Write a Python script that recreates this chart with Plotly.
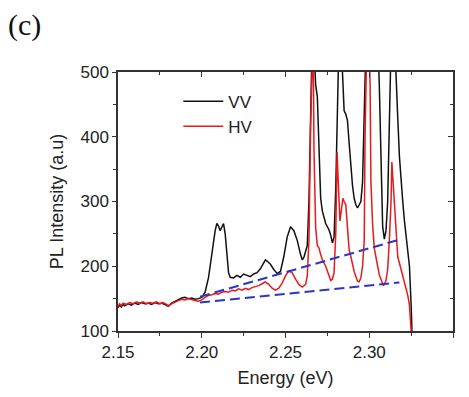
import plotly.graph_objects as go

# VV (black) spectrum
vv_e = [2.150, 2.151, 2.152, 2.153, 2.154, 2.156, 2.158, 2.160, 2.162, 2.164, 2.166, 2.168, 2.170,
        2.172, 2.174, 2.176, 2.178, 2.180, 2.182, 2.184, 2.186, 2.188, 2.190, 2.192, 2.194, 2.196,
        2.198, 2.200, 2.202, 2.204, 2.205, 2.206, 2.207, 2.208, 2.209, 2.210, 2.211, 2.212, 2.213,
        2.214, 2.215, 2.216, 2.217, 2.219, 2.221, 2.223, 2.225, 2.227, 2.229, 2.231, 2.233, 2.235,
        2.237, 2.238, 2.239, 2.241, 2.243, 2.245, 2.247, 2.249, 2.251, 2.253, 2.255, 2.257, 2.259,
        2.260, 2.261, 2.262, 2.263, 2.264, 2.265, 2.266, 2.267, 2.268, 2.269, 2.270, 2.271, 2.272,
        2.274, 2.276, 2.277, 2.278, 2.279, 2.280, 2.281, 2.282, 2.283, 2.284, 2.285, 2.286, 2.287,
        2.288, 2.289, 2.290, 2.291, 2.292, 2.293, 2.294, 2.295, 2.296, 2.297, 2.298, 2.302, 2.305,
        2.306, 2.307, 2.308, 2.309, 2.310, 2.311, 2.312, 2.313, 2.315, 2.316, 2.317, 2.318, 2.319,
        2.320, 2.321, 2.322, 2.323, 2.324, 2.325, 2.3255]
vv_i = [136, 140, 137, 141, 139, 142, 140, 143, 141, 144, 142, 143, 141,
        144, 142, 143, 141, 138, 143, 146, 149, 151, 152, 150, 151, 149,
        150, 152, 160, 182, 200, 220, 238, 255, 266, 262, 255, 262, 266,
        250, 215, 190, 183, 182, 186, 183, 188, 186, 184, 188, 190, 196,
        204, 210, 208, 203, 195, 189, 192, 215, 245, 261, 255, 240, 218,
        210, 214, 222, 232, 300, 520, 560, 540, 480, 462, 380, 305, 285,
        266, 256, 248, 236, 245, 320, 480, 560, 560, 500, 440, 435, 425,
        390, 350, 325, 305, 295, 290, 294, 300, 330, 420, 540, 560, 560,
        480, 340, 262, 242, 255, 300, 420, 540, 560, 480, 430, 370, 330,
        300, 270, 245, 225, 200, 140, 100]

# HV (red) spectrum
hv_e = [2.150, 2.151, 2.152, 2.153, 2.155, 2.157, 2.159, 2.161, 2.163, 2.165, 2.167, 2.169, 2.171,
        2.173, 2.175, 2.177, 2.179, 2.180, 2.182, 2.184, 2.186, 2.188, 2.190, 2.192, 2.194, 2.196,
        2.198, 2.200, 2.202, 2.204, 2.206, 2.208, 2.210, 2.212, 2.214, 2.216, 2.218, 2.220, 2.222,
        2.224, 2.226, 2.228, 2.230, 2.232, 2.234, 2.236, 2.238, 2.240, 2.242, 2.244, 2.246, 2.248,
        2.250, 2.252, 2.254, 2.256, 2.258, 2.260, 2.262, 2.263, 2.264, 2.265, 2.2655, 2.2665, 2.267,
        2.268, 2.269, 2.270, 2.271, 2.272, 2.274, 2.276, 2.277, 2.278, 2.279, 2.280, 2.2808, 2.2815,
        2.2825, 2.2835, 2.2843, 2.285, 2.286, 2.287, 2.288, 2.289, 2.291, 2.293, 2.294, 2.295, 2.296,
        2.297, 2.2975, 2.2985, 2.300, 2.3005, 2.301, 2.302, 2.303, 2.305, 2.306, 2.307, 2.3085, 2.310,
        2.311, 2.312, 2.313, 2.3135, 2.314, 2.315, 2.316, 2.317, 2.318, 2.319, 2.320, 2.321, 2.322,
        2.323, 2.324, 2.325]
hv_i = [138, 142, 139, 143, 141, 144, 142, 145, 143, 145, 142, 144, 143,
        145, 142, 144, 141, 139, 142, 145, 147, 149, 148, 150, 148, 147,
        146, 148, 152, 155, 156, 158, 157, 160, 161, 160, 163, 162, 165,
        163, 166, 164, 167, 168, 170, 173, 176, 172, 166, 163, 166, 174,
        185, 193, 190, 180, 172, 168, 172, 185, 240, 420, 560, 560, 380,
        260, 232, 228, 218, 210, 200, 185, 178, 180, 190, 250, 376, 330,
        270, 290, 305, 300, 295, 260, 225, 215, 192, 177, 176, 182, 200,
        240, 400, 540, 540, 480, 330, 265, 228, 200, 187, 180, 170, 178,
        195, 240, 300, 361, 340, 290, 240, 215, 205, 195, 185, 176, 168,
        155, 140, 100]

# Dashed baseline guides
upper_e = [2.199, 2.318]
upper_i = [153, 241]
lower_e = [2.199, 2.318]
lower_i = [144, 175]

x_ticks = [2.15, 2.20, 2.25, 2.30, 2.35]
x_tick_labels = ["2.15", "2.20", "2.25", "2.30", "2.35"]
y_ticks = [100, 200, 300, 400, 500]

fig = go.Figure()
fig.add_trace(go.Scatter(x=vv_e, y=vv_i, mode="lines", name="VV",
                         line=dict(color="#111111", width=1.5)))
fig.add_trace(go.Scatter(x=hv_e, y=hv_i, mode="lines", name="HV",
                         line=dict(color="#e8191b", width=1.5)))
fig.add_trace(go.Scatter(x=upper_e, y=upper_i, mode="lines", showlegend=False,
                         line=dict(color="#2a35c8", width=2, dash="10px,5px")))
fig.add_trace(go.Scatter(x=lower_e, y=lower_i, mode="lines", showlegend=False,
                         line=dict(color="#2a35c8", width=2, dash="10px,5px")))
# invisible trace to activate mirror axes
fig.add_trace(go.Scatter(x=[2.15], y=[100], xaxis="x2", yaxis="y2", mode="markers",
                         marker=dict(opacity=0), showlegend=False, hoverinfo="skip"))

axis_font = dict(family="Arial", size=17, color="#222222")
fig.update_layout(
    width=469, height=397,
    margin=dict(l=118, r=16, t=72, b=63),
    paper_bgcolor="white", plot_bgcolor="white",
    font=dict(family="Arial", color="#222222"),
    xaxis=dict(range=[2.15, 2.35], tickvals=x_ticks, ticktext=x_tick_labels,
               ticks="outside", ticklen=5, tickwidth=1.2, tickcolor="#333",
               showline=True, linecolor="#333", linewidth=1.5, showgrid=False, zeroline=False,
               tickfont=axis_font,
               minor=dict(dtick=0.025, tick0=2.15, ticks="outside", ticklen=3, tickcolor="#333"),
               title=dict(text="Energy (eV)", font=dict(family="Arial", size=18, color="#222222"), standoff=10)),
    yaxis=dict(range=[100, 500], tickvals=y_ticks,
               ticks="outside", ticklen=4, tickwidth=1.2, tickcolor="#333",
               showline=True, linecolor="#333", linewidth=1.5, showgrid=False, zeroline=False,
               tickfont=axis_font, ticklabelstandoff=0,
               minor=dict(dtick=50, tick0=100, ticks="outside", ticklen=3, tickcolor="#333"),
               title=dict(text="PL Intensity (a.u)", font=dict(family="Arial", size=18, color="#222222"), standoff=12)),
    xaxis2=dict(range=[2.15, 2.35], overlaying="x", side="top", tickvals=x_ticks,
                showticklabels=False, ticks="inside", ticklen=5, tickcolor="#333",
                showline=True, linecolor="#333", linewidth=1.5, showgrid=False, zeroline=False,
                minor=dict(dtick=0.025, tick0=2.15, ticks="inside", ticklen=3, tickcolor="#333")),
    yaxis2=dict(range=[100, 500], overlaying="y", side="right", tickvals=y_ticks,
                showticklabels=False, ticks="inside", ticklen=5, tickcolor="#333",
                showline=True, linecolor="#333", linewidth=1.5, showgrid=False, zeroline=False,
                minor=dict(dtick=50, tick0=100, ticks="inside", ticklen=3, tickcolor="#333")),
    legend=dict(x=0.18, y=0.955, xanchor="left", yanchor="top", bgcolor="rgba(0,0,0,0)",
                font=dict(family="Arial", size=17, color="#222222"), tracegroupgap=0, itemwidth=40),
    annotations=[dict(text="(c)", xref="paper", yref="paper", x=-0.335, y=1.18,
                      xanchor="left", yanchor="middle", showarrow=False,
                      font=dict(family="Liberation Serif, Times New Roman, serif", size=30, color="#111"))],
)

fig.write_html("out.html")
